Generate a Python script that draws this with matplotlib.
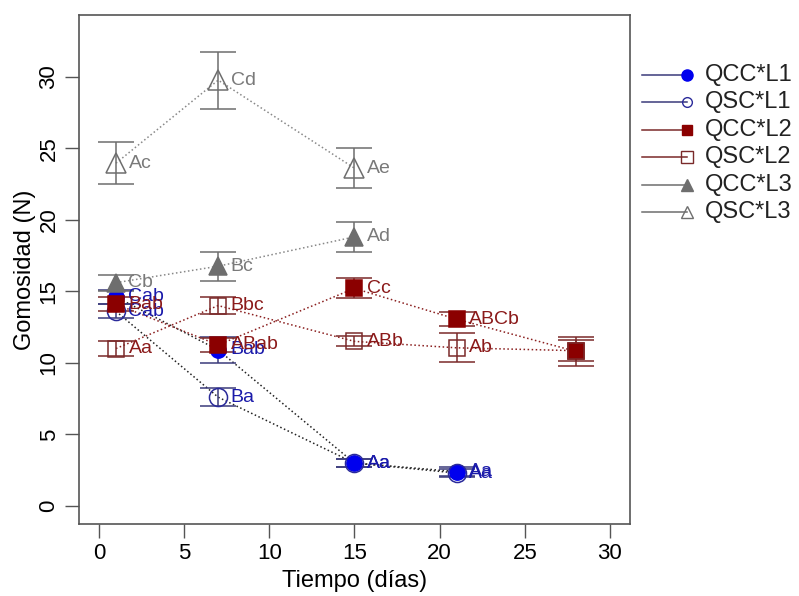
import matplotlib
matplotlib.use('Agg')
import matplotlib.pyplot as plt
from matplotlib.lines import Line2D

plt.rcParams['font.family'] = ['Liberation Sans', 'DejaVu Sans']

# data
series = ['QCC*L1', 'QSC*L1', 'QCC*L2', 'QSC*L2', 'QCC*L3', 'QSC*L3']
days_l1 = [1, 7, 15, 21]
days_l2 = [1, 7, 15, 21, 28]
days_l3 = [1, 7, 15]

qcc_l1 = [14.6, 10.9, 3.0, 2.4]
qcc_l1_err = [0.5, 0.9, 0.3, 0.3]
qcc_l1_lab = ['Cab', 'Bab', 'Aa', 'Aa']

qsc_l1 = [13.6, 7.6, 3.0, 2.3]
qsc_l1_err = [0.5, 0.65, 0.3, 0.3]
qsc_l1_lab = ['Cab', 'Ba', 'Aa', 'Aa']

qcc_l2 = [14.1, 11.25, 15.2, 13.05, 10.8]
qcc_l2_err = [0.5, 0.5, 0.7, 0.5, 1.0]
qcc_l2_lab = ['Bab', 'ABab', 'Cc', 'ABCb', '']

qsc_l2 = [11.0, 14.0, 11.5, 11.05, 10.85]
qsc_l2_err = [0.55, 0.6, 0.35, 1.0, 0.75]
qsc_l2_lab = ['Aa', 'Bbc', 'ABb', 'Ab', '']

qcc_l3 = [15.6, 16.75, 18.8]
qcc_l3_err = [0.55, 1.0, 1.05]
qcc_l3_lab = ['Cb', 'Bc', 'Ad']

qsc_l3 = [23.95, 29.75, 23.6]
qsc_l3_err = [1.45, 2.0, 1.4]
qsc_l3_lab = ['Ac', 'Cd', 'Ae']

blue = '#0000ee'
navy = '#3a3a7a'
dred = '#8b0000'
gray = '#6e6e6e'

styles = [
    # x, y, err, labels, marker, face, edge, errcolor, linecolor, textcolor, size
    (days_l1, qcc_l1, qcc_l1_err, qcc_l1_lab, 'o', blue, blue, navy, '#222222', '#1a1aaa', 11),
    (days_l1, qsc_l1, qsc_l1_err, qsc_l1_lab, 'o', 'none', '#2a2a9a', navy, '#222222', '#1a1aaa', 13),
    (days_l2, qcc_l2, qcc_l2_err, qcc_l2_lab, 's', dred, dred, '#7a2a2a', '#8b2020', '#8b1a1a', 11),
    (days_l2, qsc_l2, qsc_l2_err, qsc_l2_lab, 's', 'none', '#7a2a2a', '#7a2a2a', '#8b2020', '#8b1a1a', 12),
    (days_l3, qcc_l3, qcc_l3_err, qcc_l3_lab, '^', gray, gray, gray, '#888888', '#7a7a7a', 13),
    (days_l3, qsc_l3, qsc_l3_err, qsc_l3_lab, '^', 'none', gray, gray, '#888888', '#7a7a7a', 15),
]

fig = plt.figure(figsize=(7.99, 5.96), dpi=100)
ax = fig.add_axes([0.0989, 0.1208, 0.6896, 0.854])

for x, y, e, labs, m, fc, ec, errc, lc, tc, ms in styles:
    ax.plot(x, y, ':', color=lc, lw=1.1, zorder=1)
    ax.errorbar(x, y, yerr=e, fmt='none', ecolor=errc, elinewidth=1.1,
                capsize=13, capthick=1.1, zorder=2)
    ax.plot(x, y, m, ms=ms, mfc=fc, mec=ec, mew=1.1, ls='none', zorder=3)
    for xi, yi, t in zip(x, y, labs):
        if t:
            ax.annotate(t, (xi, yi), xytext=(9, 0), textcoords='offset points',
                        ha='left', va='center', fontsize=14, color=tc, zorder=4)

ax.set_xlim(-1.17, 31.18)
ax.set_ylim(-1.26, 34.3)
ax.set_xticks(range(0, 31, 5))
ax.set_yticks(range(0, 31, 5))
ax.tick_params(length=10, width=1, color='#555555', labelsize=16, pad=4)
for lbl in ax.get_yticklabels():
    lbl.set_rotation(90)
    lbl.set_va('center')
for s in ax.spines.values():
    s.set_color('#555555')
    s.set_linewidth(1.2)
ax.set_xlabel('Tiempo (días)', fontsize=17, labelpad=4)
ax.set_ylabel('Gomosidad (N)', fontsize=17, labelpad=2)

# legend drawn outside the axes, line with the marker at its right end
leg_fc = [blue, 'none', dred, 'none', gray, 'none']
leg_ec = [blue, '#2a2a9a', dred, '#7a2a2a', gray, gray]
leg_lc = [navy, navy, '#7a2a2a', '#7a2a2a', gray, gray]
leg_m = ['o', 'o', 's', 's', '^', '^']
leg_ms = [8, 7, 7, 8, 8, 9]
W, H = 799, 596
for i, name in enumerate(series):
    yp = 1 - (75 + i * 27.4) / H
    fig.add_artist(Line2D([642 / W, 687 / W], [yp, yp], color=leg_lc[i], lw=1.1))
    fig.add_artist(Line2D([687 / W], [yp], marker=leg_m[i], ms=leg_ms[i],
                          mfc=leg_fc[i], mec=leg_ec[i], mew=1.0, ls='none'))
    fig.text(705 / W, yp, name, fontsize=17, va='center', ha='left', color='#222222')

fig.savefig('out.png', dpi=100)
